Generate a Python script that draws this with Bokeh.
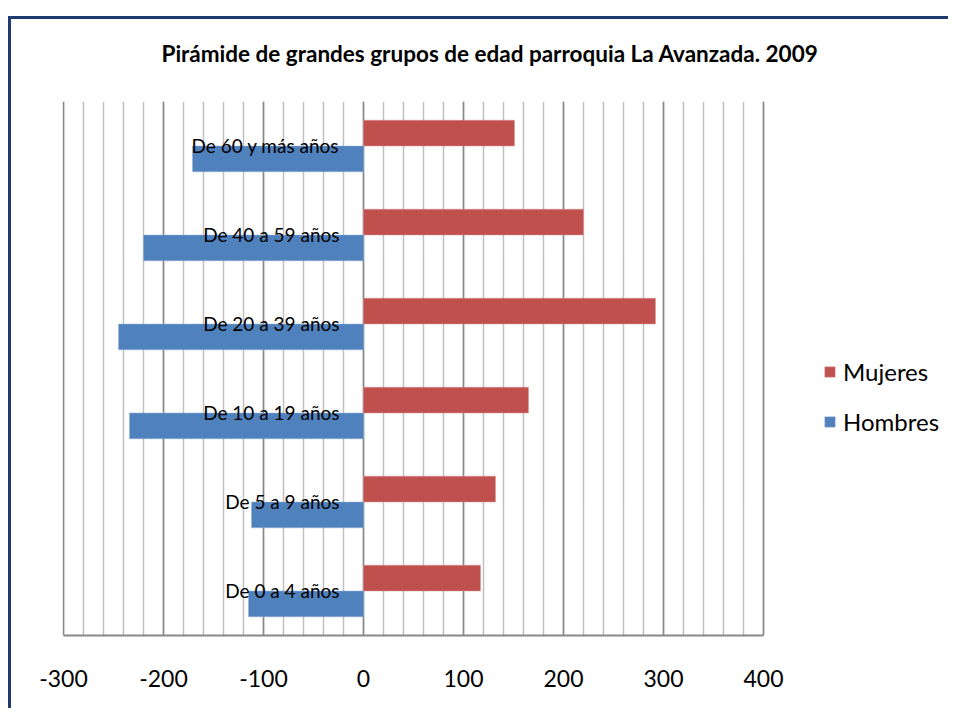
from bokeh.plotting import figure
from bokeh.models import (ColumnDataSource, FactorRange, FixedTicker, Legend, LegendItem, Title, Range1d)
from bokeh.transform import dodge
from bokeh.core.properties import value
from bokeh.embed import file_html
from bokeh.resources import INLINE

# ---- data ----
categories = ["De 0 a 4 años", "De 5 a 9 años", "De 10 a 19 años",
              "De 20 a 39 años", "De 40 a 59 años", "De 60 y más años"]
mujeres = [117, 132, 165, 292, 220, 151]
hombres = [-115, -112, -234, -245, -220, -171]
x_ticks = [-300, -200, -100, 0, 100, 200, 300, 400]
x_tick_labels = ["-300", "-200", "-100", "0", "100", "200", "300", "400"]
x_minor = list(range(-300, 401, 20))
title_text = "Pirámide de grandes grupos de edad parroquia La Avanzada. 2009"

RED = "#C0504D"
BLUE = "#4F81BD"
FONT = "Lato"

W, H = 940, 692
ML, MT, MB = 51, 81, 76

src = ColumnDataSource(dict(cat=categories, muj=mujeres, hom=hombres,
                            zero=[0] * len(categories)))

p = figure(width=W, height=H, output_backend="svg", toolbar_location=None,
           y_range=FactorRange(factors=categories, range_padding=0),
           x_range=Range1d(-301, -301 + (W - ML)))
p.min_border_left = ML
p.min_border_right = 0
p.min_border_top = MT
p.min_border_bottom = MB
p.styles = {"border-top": "3px solid #1F3A6E", "border-left": "3px solid #1F3A6E",
            "position": "relative", "top": "16px", "left": "8px"}
p.outline_line_color = None
p.background_fill_color = "white"
p.border_fill_color = "white"

r_m = p.hbar(y=dodge("cat", 0.145, range=p.y_range), left=0, right="muj", height=0.29,
             source=src, fill_color=RED, line_color="#D99694", line_width=0.5)
r_h = p.hbar(y=dodge("cat", -0.145, range=p.y_range), left=0, right="hom", height=0.29,
             source=src, fill_color=BLUE, line_color="#95B3D7", line_width=0.5)

p.text(x="zero", y="cat", text="cat", source=src, x_offset=-24, y_offset=-1,
       text_align="right", text_baseline="middle",
       text_font=value(FONT), text_font_size="19px", text_color="black")

# axes
p.yaxis.visible = False
p.ygrid.visible = False
ax = p.xaxis[0]
ax.ticker = FixedTicker(ticks=x_ticks, minor_ticks=x_minor)
ax.bounds = (-300, 400)
ax.major_label_overrides = {t: s for t, s in zip(x_ticks, x_tick_labels)}
ax.major_tick_line_color = None
ax.minor_tick_line_color = None
ax.axis_line_color = "#878787"
ax.axis_line_width = 2
ax.major_label_text_font = FONT
ax.major_label_text_font_size = "23px"
ax.major_label_text_color = "black"
ax.major_label_standoff = 28
p.xgrid.grid_line_color = "#878787"
p.xgrid.grid_line_width = 1.5
p.xgrid.minor_grid_line_color = "#C0C0C0"
p.xgrid.minor_grid_line_width = 1.5

p.title = Title(text=title_text, align="left", offset=99,
                text_font=FONT, text_font_size="22.5px", text_font_style="bold",
                text_color="black", standoff=36)
# small empty gap between title and plot area
p.add_layout(Title(text=" ", text_font_size="1px", standoff=14), "above")

lg = Legend(items=[LegendItem(label="Mujeres", renderers=[r_m]),
                   LegendItem(label="Hombres", renderers=[r_h])],
            location=(761, 199), padding=0, margin=0, spacing=21,
            border_line_color=None, background_fill_alpha=0,
            glyph_width=13, glyph_height=13, label_standoff=7,
            label_text_font=FONT, label_text_font_size="24px",
            label_text_color="black")
p.add_layout(lg)

open("out.html", "w").write(file_html(p, INLINE))
